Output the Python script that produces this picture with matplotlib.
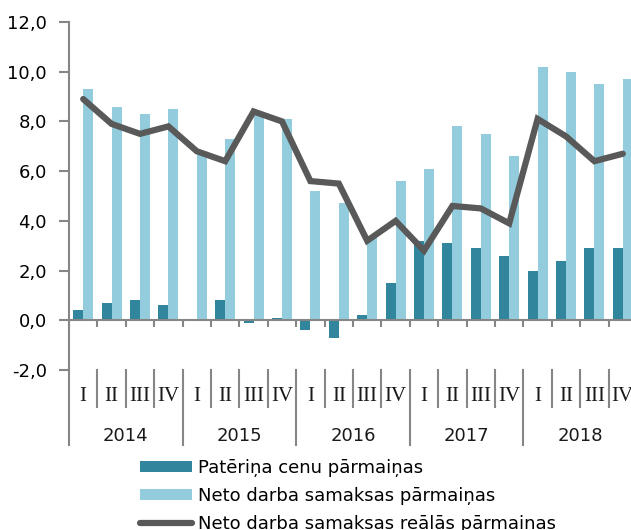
import matplotlib.pyplot as plt
from matplotlib.lines import Line2D
from matplotlib.patches import Patch
from matplotlib.ticker import FuncFormatter, MultipleLocator

years = ['2014', '2015', '2016', '2017', '2018']
quarters = ['I', 'II', 'III', 'IV']

# Patēriņa cenu pārmaiņas
prices = [0.4, 0.7, 0.8, 0.6,
          0.0, 0.8, -0.1, 0.1,
          -0.4, -0.7, 0.2, 1.5,
          3.2, 3.1, 2.9, 2.6,
          2.0, 2.4, 2.9, 2.9]
# Neto darba samaksas pārmaiņas
wages = [9.3, 8.6, 8.3, 8.5,
         6.7, 7.3, 8.3, 8.1,
         5.2, 4.7, 3.4, 5.6,
         6.1, 7.8, 7.5, 6.6,
         10.2, 10.0, 9.5, 9.7]
# Neto darba samaksas reālās pārmaiņas
real_wages = [8.9, 7.9, 7.5, 7.8,
              6.8, 6.4, 8.4, 8.0,
              5.6, 5.5, 3.2, 4.0,
              2.8, 4.6, 4.5, 3.9,
              8.1, 7.4, 6.4, 6.7]

dark = '#31859c'
light = '#93cddd'
grey_line = '#595959'
axis_col = '#868686'

plt.rcParams['font.family'] = ['DejaVu Sans']

fig = plt.figure(figsize=(6.31, 5.30), dpi=100)
ax = fig.add_axes([69 / 631, 160 / 530, 568 / 631, 348 / 530])

n = len(prices)
centers = [i + 0.5 for i in range(n)]
w = 0.35

ax.bar([c - w / 2 for c in centers], prices, width=w, color=dark, zorder=2)
ax.bar([c + w / 2 for c in centers], wages, width=w, color=light, zorder=2)
ax.plot(centers, real_wages, color=grey_line, linewidth=4.5,
        solid_capstyle='round', solid_joinstyle='miter', zorder=3)

ax.set_xlim(0, n)
ax.set_ylim(-2, 12)
ax.yaxis.set_major_locator(MultipleLocator(2))
ax.yaxis.set_major_formatter(FuncFormatter(lambda v, p: f'{v:.1f}'.replace('.', ',')))

for s in ['top', 'right']:
    ax.spines[s].set_visible(False)
ax.spines['left'].set_color(axis_col)
ax.spines['left'].set_linewidth(1.5)
ax.spines['bottom'].set_position(('data', 0))
ax.spines['bottom'].set_color(axis_col)
ax.spines['bottom'].set_linewidth(1.5)
ax.spines['bottom'].set_zorder(4)

ax.set_xticks(range(n + 1))
ax.set_xticklabels([])
ax.tick_params(axis='x', direction='out', length=5, width=1.5, color=axis_col)
ax.tick_params(axis='y', direction='out', length=7, width=1.5, color=axis_col,
               labelsize=13, pad=9)

# multi-level category labels below the plot
tr = ax.get_xaxis_transform()
for i in range(n + 1):
    if i % 4 == 0:
        ax.plot([i, i], [0, -0.216], transform=tr, color=axis_col,
                linewidth=1.5, clip_on=False)
    else:
        ax.plot([i, i], [0, -0.106], transform=tr, color=axis_col,
                linewidth=1.5, clip_on=False)

for i in range(n):
    ax.text(i + 0.5, -0.075, quarters[i % 4], transform=tr, ha='center',
            va='center', fontsize=15, family='Liberation Serif', color='#1a1a1a')

for j, y in enumerate(years):
    ax.text(j * 4 + 2, -0.19, y, transform=tr, ha='center', va='center',
            fontsize=13, color='#1a1a1a')

handles = [
    Patch(facecolor=dark, label='Patēriņa cenu pārmaiņas'),
    Patch(facecolor=light, label='Neto darba samaksas pārmaiņas'),
    Line2D([], [], color=grey_line, linewidth=4.5, solid_capstyle='round',
           label='Neto darba samaksas reālās pārmaiņas'),
]
fig.legend(handles=handles, loc='upper left', bbox_to_anchor=(127 / 631, 1 - 446 / 530),
           frameon=False, fontsize=13, handlelength=2.9, handleheight=0.6,
           handletextpad=0.35, labelspacing=0.56, borderpad=0.2)

fig.savefig('out.png', dpi=100)
